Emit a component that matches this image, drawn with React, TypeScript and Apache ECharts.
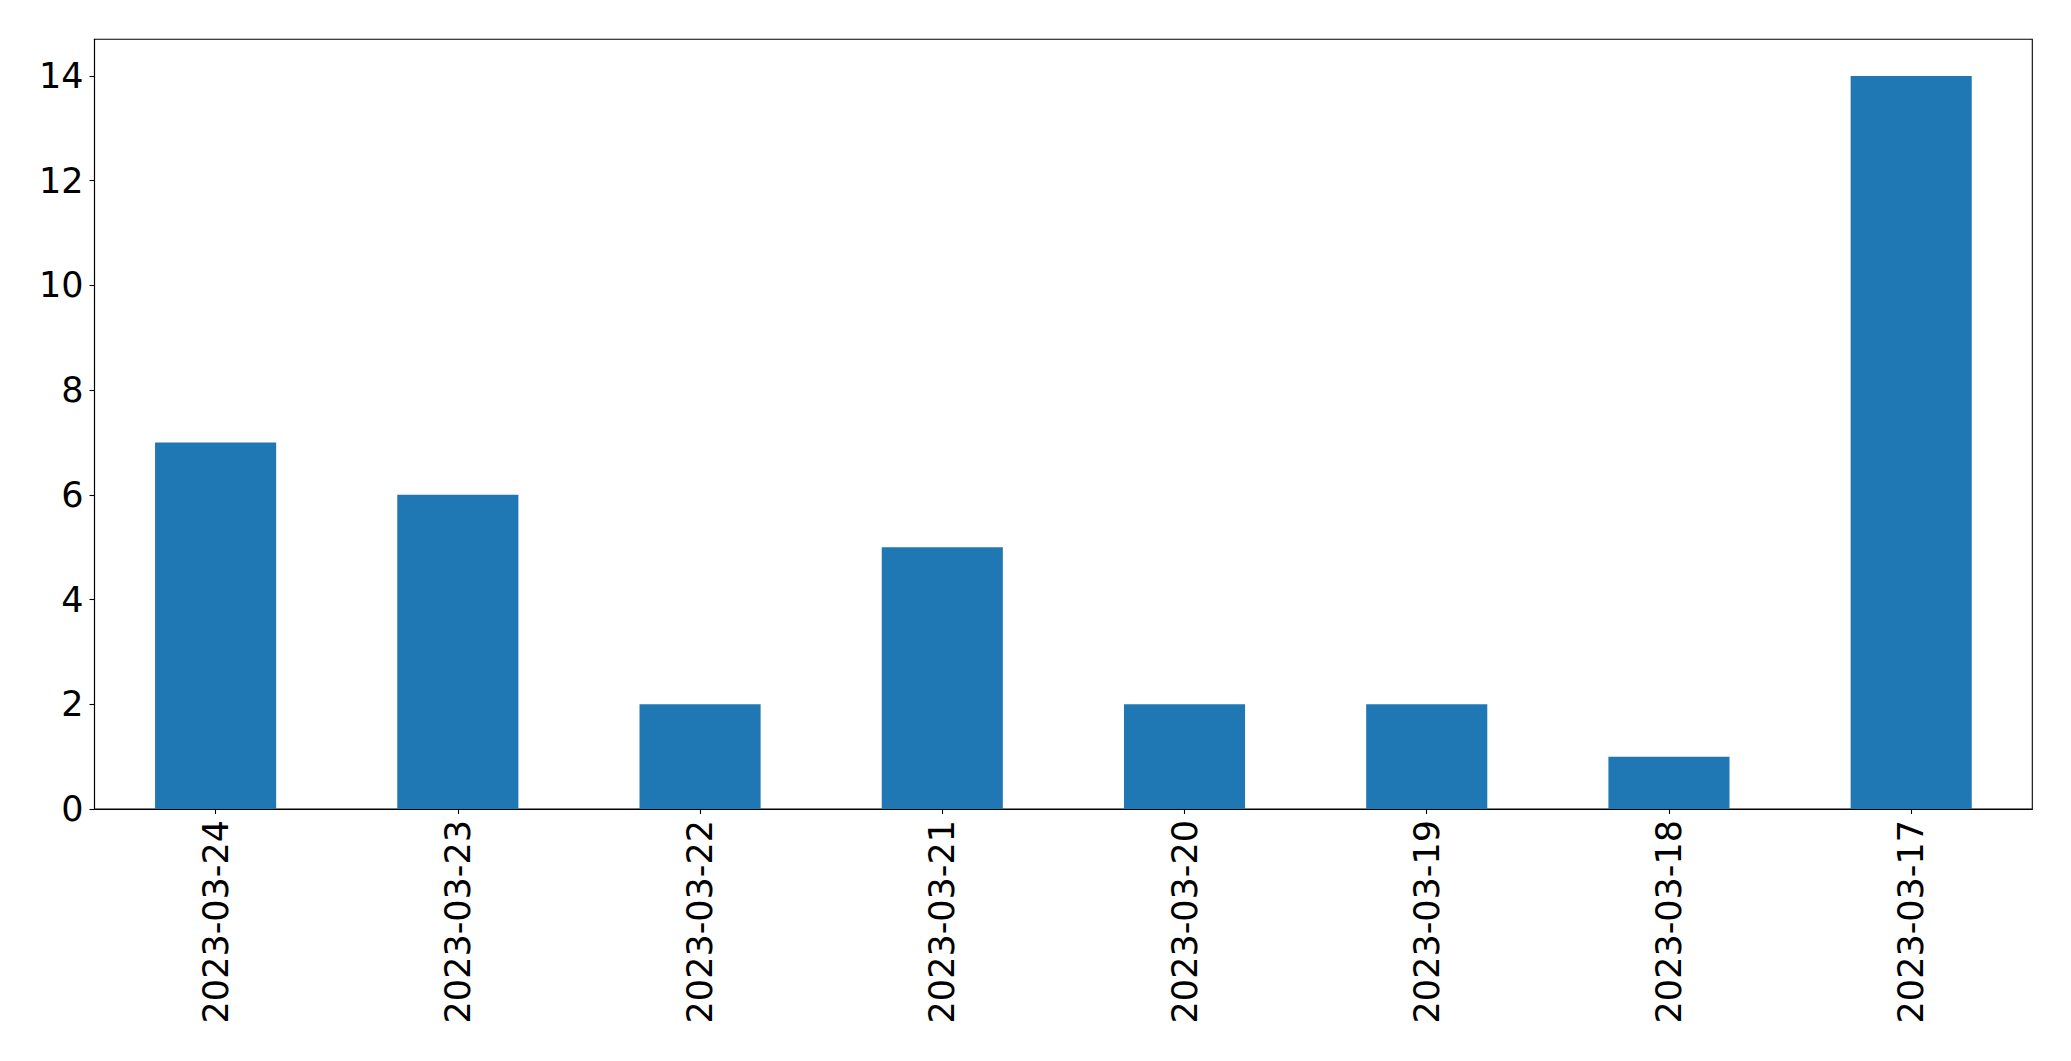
import React, { useEffect, useRef } from "react";
import * as echarts from "echarts";

const categories = ["2023-03-24", "2023-03-23", "2023-03-22", "2023-03-21", "2023-03-20", "2023-03-19", "2023-03-18", "2023-03-17"];
const values = [7, 6, 2, 5, 2, 2, 1, 14];
const yTicks = [0, 2, 4, 6, 8, 10, 12, 14];

export default function App() {
  const ref = useRef<HTMLDivElement>(null);
  useEffect(() => {
    document.body.style.margin = "0";
    const chart = echarts.init(ref.current!, null, { renderer: "svg" });
    const font = "DejaVu Sans";
    chart.setOption({
      animation: false,
      backgroundColor: "#ffffff",
      textStyle: { fontFamily: font },
      grid: {
        left: 94.5,
        top: 39.3,
        width: 1937.8,
        height: 769.7,
        show: true,
        borderColor: "#000000",
        borderWidth: 1.1,
        backgroundColor: "transparent",
      },
      xAxis: {
        type: "category",
        data: categories,
        boundaryGap: true,
        axisLine: { show: true, lineStyle: { color: "#000", width: 1.1 } },
        axisTick: { show: true, alignWithLabel: true, length: 5, lineStyle: { color: "#000", width: 1.1 } },
        axisLabel: {
          rotate: 90,
          fontSize: 35,
          color: "#000",
          fontFamily: font,
          margin: 11,
          interval: 0,
        },
        splitLine: { show: false },
      },
      yAxis: {
        type: "value",
        min: 0,
        max: 14.7,
        interval: 2,
        axisLine: { show: true, lineStyle: { color: "#000", width: 1.1 } },
        axisTick: { show: true, length: 5, customValues: yTicks, lineStyle: { color: "#000", width: 1.1 } },
        axisLabel: {
          fontSize: 35,
          color: "#000",
          fontFamily: font,
          margin: 11,
          customValues: yTicks,
          formatter: (v: number) => (yTicks.includes(v) ? String(v) : ""),
        },
        splitLine: { show: false },
      },
      series: [
        {
          type: "bar",
          data: values,
          barWidth: "50%",
          itemStyle: { color: "#1f77b4" },
        },
      ],
    });
    return () => chart.dispose();
  }, []);
  return <div ref={ref} style={{ width: 2071, height: 1061 }} />;
}
